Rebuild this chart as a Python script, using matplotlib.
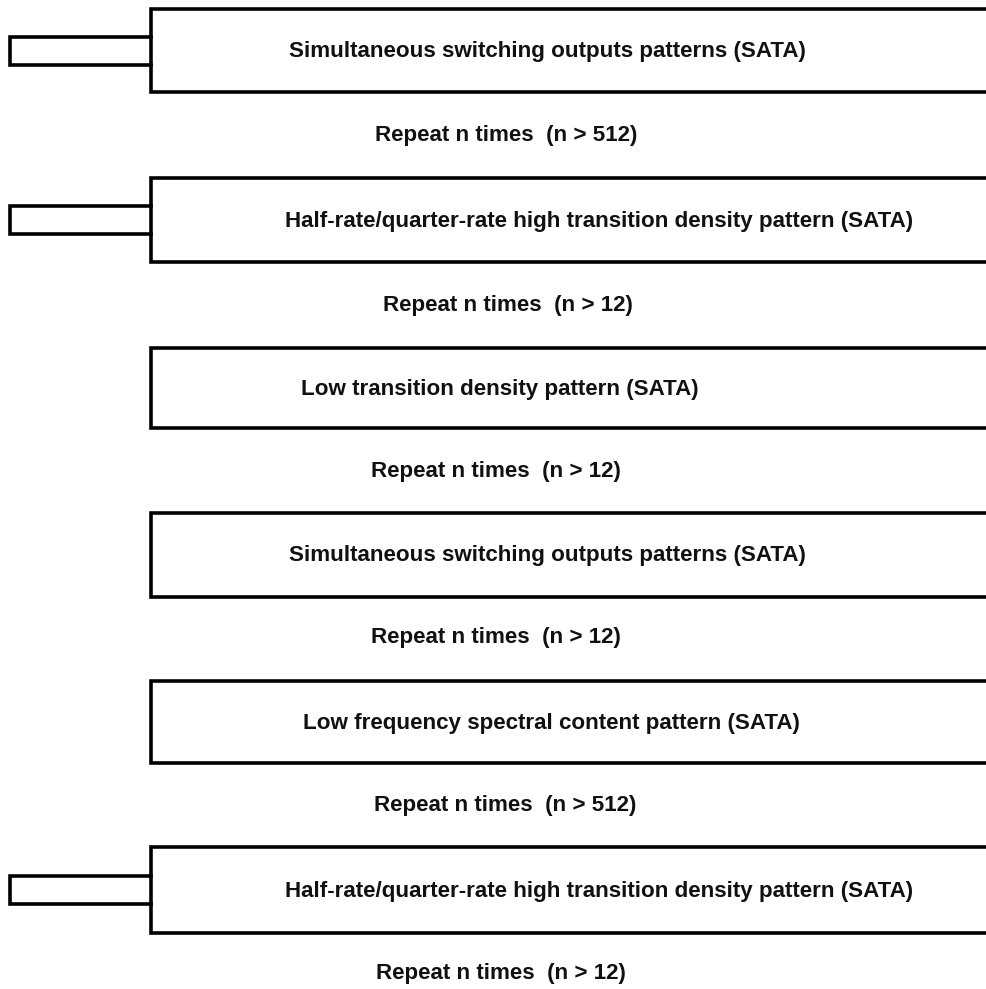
import matplotlib
matplotlib.use("Agg")
import matplotlib.pyplot as plt

# Content
pattern_labels = [
    "Simultaneous switching outputs patterns (SATA)",
    "Half-rate/quarter-rate high transition density pattern (SATA)",
    "Low transition density pattern (SATA)",
    "Simultaneous switching outputs patterns (SATA)",
    "Low frequency spectral content pattern (SATA)",
    "Half-rate/quarter-rate high transition density pattern (SATA)",
]
repeat_labels = [
    "Repeat n times  (n > 512)",
    "Repeat n times  (n > 12)",
    "Repeat n times  (n > 12)",
    "Repeat n times  (n > 12)",
    "Repeat n times  (n > 512)",
    "Repeat n times  (n > 12)",
]
has_tab = [True, True, False, False, False, True]

# Layout (pixel coordinates)
box_top = [9, 178, 348, 513, 681, 847]
box_bottom = [92, 262, 428, 597, 763, 933]
label_x = [289, 285, 301, 289, 303, 285]
repeat_x = [375, 383, 371, 371, 374, 376]
repeat_y = [136, 305, 471, 638, 805, 973]

W, H = 986, 989
fig = plt.figure(figsize=(W / 100, H / 100), dpi=100)
ax = fig.add_axes([0, 0, 1, 1])
ax.set_xlim(0, W)
ax.set_ylim(H, 0)
ax.axis("off")

lw = 2.6
box_left = 151
tab_left = 10
tab_half = 14
font = dict(family=["Liberation Sans", "DejaVu Sans"], fontweight="bold", fontsize=16.1, color="#111111")

for i in range(len(pattern_labels)):
    t, b = box_top[i], box_bottom[i]
    c = (t + b) / 2
    ax.plot([W + 5, box_left, box_left, W + 5], [t, t, b, b], color="black", lw=lw,
            solid_joinstyle="miter", solid_capstyle="projecting")
    if has_tab[i]:
        ax.plot([box_left, tab_left, tab_left, box_left],
                [c - tab_half, c - tab_half, c + tab_half, c + tab_half],
                color="black", lw=lw, solid_joinstyle="miter", solid_capstyle="projecting")
    ax.text(label_x[i], c + 1, pattern_labels[i], ha="left", va="center", **font)
    ax.text(repeat_x[i], repeat_y[i], repeat_labels[i], ha="left", va="center", **font)

fig.savefig("out.png", dpi=100)
